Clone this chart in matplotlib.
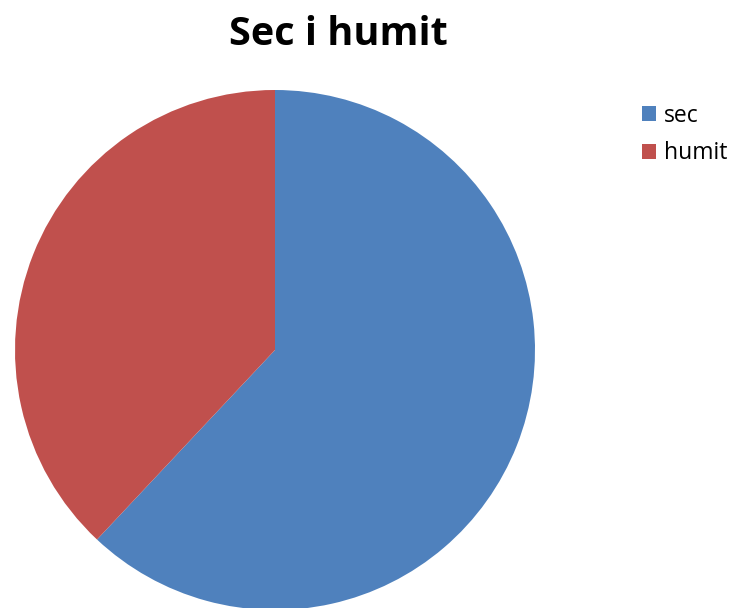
import matplotlib
matplotlib.use("Agg")
import matplotlib.pyplot as plt
from matplotlib.patches import Patch

labels = ["sec", "humit"]
values = [62, 38]
colors = ["#4F81BD", "#C0504D"]
title = "Sec i humit"

W, H = 731, 608
fig = plt.figure(figsize=(W/100, H/100), dpi=100)
cx, cy, r = 275, 350, 260
ax = fig.add_axes([(cx - r)/W, (H - cy - r)/H, 2*r/W, 2*r/H])
ax.pie(values, colors=colors, startangle=90, counterclock=False, radius=1,
       wedgeprops=dict(linewidth=0))
ax.set_xlim(-1, 1)
ax.set_ylim(-1, 1)
ax.set_aspect("equal")
ax.axis("off")

fig.text(338/W, 1 - 45/H, title, ha="center", va="baseline",
         fontsize=28.5, fontweight="bold", family="Open Sans")

handles = [Patch(facecolor=c, edgecolor="none", label=l) for l, c in zip(labels, colors)]
fig.legend(handles=handles, loc="upper left", bbox_to_anchor=(621/W, 1 - 83/H),
           frameon=False, prop=dict(family="Open Sans", size=16.5),
           handlelength=0.63, handleheight=0.63, handletextpad=0.35, labelspacing=0.6)

fig.savefig("out.png", dpi=100)
